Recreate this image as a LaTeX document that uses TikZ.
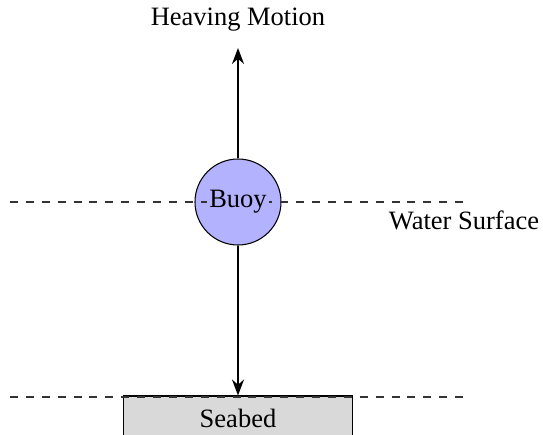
\documentclass[tikz,border=0pt]{standalone}
\usepackage{fontspec}
\setmainfont{Liberation Serif}
\usetikzlibrary{arrows.meta}
\begin{document}
\begin{tikzpicture}[x=0.3774pt,y=-0.3774pt,
  lbl/.style={font=\fontsize{10}{12}\selectfont, inner sep=0pt},
  buoystyle/.style={circle, draw=black, fill=blue!30, minimum size=32.46pt, inner sep=0pt, font=\fontsize{10}{12}\selectfont},
  bedstyle/.style={rectangle, draw=black, fill=gray!30, minimum width=86.4pt, minimum height=16.6pt, inner sep=0pt, font=\fontsize{10}{12}\selectfont},
  surf/.style={dashed, thin, black!80},
  motion/.style={thick, -{Stealth[length=6pt,width=4.5pt]}}]
\useasboundingbox (0,0) rectangle (543,434);
\clip (0,0) rectangle (543,434);
\node[buoystyle] (buoy) at (238,202) {};
\node[bedstyle] (bed) at (238,418) {};
\coordinate (wl) at (10,202);
\coordinate (wr) at (465,202);
\coordinate (sl) at (10,397);
\coordinate (sr) at (465,397);
\draw[surf] (wl) -- (wr);
\draw[surf] (sl) -- (sr);
\node[lbl, fill=blue!30, inner xsep=1pt, inner ysep=0.5pt] (buoytxt) at (buoy.center) {Buoy};
\node[lbl] (bedtxt) at (bed.center) {Seabed};
\node[lbl] (heave) at (238,20) {Heaving Motion};
\node[lbl] (water) at (464,220) {Water Surface};
\coordinate (top) at (238,48);
\draw[motion] (buoy.north) -- (top);
\draw[motion] (buoy.south) -- (bed.north);
\end{tikzpicture}
\end{document}
